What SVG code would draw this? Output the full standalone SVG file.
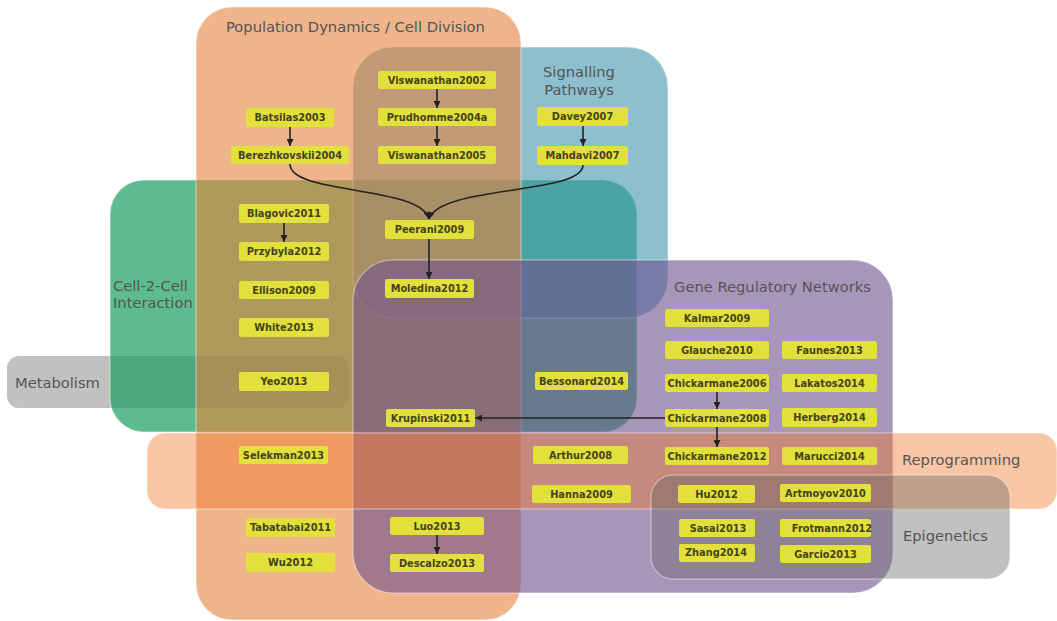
<svg xmlns="http://www.w3.org/2000/svg" width="1057" height="621" viewBox="0 0 1057 621">
<defs>
<style>
.region{stroke:#ffffff;stroke-opacity:0.35;stroke-width:1.5}
.rlabel{font-family:"DejaVu Sans","Liberation Sans",sans-serif;font-size:14.7px;fill:#555555}
.node rect{fill:#e2e03a}
.node text{font-family:"DejaVu Sans","Liberation Sans",sans-serif;font-size:9.8px;font-weight:bold;fill:#45421c;text-anchor:middle}
.conn{fill:none;stroke:#222222;stroke-width:1.6;marker-end:url(#ah)}
</style>
<marker id="ah" viewBox="0 0 10 10" refX="10" refY="5" markerWidth="7" markerHeight="7" markerUnits="userSpaceOnUse" orient="auto">
<path d="M0,0 L10,5 L0,10 z" fill="#222222"/>
</marker>
</defs>
<rect width="1057" height="621" fill="#ffffff"/>
<g id="regions">
<g id="metabolism"><rect x="7" y="356" width="342" height="52" rx="12" fill="rgb(100,100,100)" fill-opacity="0.4"/></g>
<g id="cell2cell"><rect class="region" x="110" y="180" width="527" height="252" rx="34" fill="rgb(26,158,95)" fill-opacity="0.7"/></g>
<g id="signalling"><rect class="region" x="353" y="47" width="315" height="271" rx="40" fill="rgb(65,148,175)" fill-opacity="0.6"/></g>
<g id="population"><rect class="region" x="196" y="7" width="325" height="613" rx="36" fill="rgb(230,130,60)" fill-opacity="0.6"/></g>
<g id="grn"><rect class="region" x="353" y="260" width="540" height="333" rx="40" fill="rgb(110,80,140)" fill-opacity="0.6"/></g>
<g id="reprogramming"><rect class="region" x="147" y="433" width="910" height="76" rx="18" fill="rgb(240,120,40)" fill-opacity="0.42"/></g>
<g id="epigenetics"><rect class="region" x="651" y="475" width="359" height="104" rx="22" fill="rgb(100,100,100)" fill-opacity="0.4"/></g>
</g>
<g id="region-labels">
<text class="rlabel" x="226" y="32">Population Dynamics / Cell Division</text>
<text class="rlabel" x="579" y="77" text-anchor="middle">Signalling</text>
<text class="rlabel" x="579" y="95" text-anchor="middle">Pathways</text>
<text class="rlabel" x="113" y="291">Cell-2-Cell</text>
<text class="rlabel" x="113" y="308">Interaction</text>
<text class="rlabel" x="674" y="292">Gene Regulatory Networks</text>
<text class="rlabel" x="15" y="388">Metabolism</text>
<text class="rlabel" x="902" y="465">Reprogramming</text>
<text class="rlabel" x="903" y="541">Epigenetics</text>
</g>
<g id="connectors">
<path class="conn" d="M437,89 L437,108"/>
<path class="conn" d="M437,126 L437,146"/>
<path class="conn" d="M290,127 L290,146"/>
<path class="conn" d="M583,126 L583,146"/>
<path class="conn" d="M284,223 L284,242"/>
<path class="conn" d="M290,164 C290,195 420,185 429,219"/>
<path class="conn" d="M583,165 C583,195 440,185 429,219"/>
<path class="conn" d="M429,239 L429,279"/>
<path class="conn" d="M717,392 L717,409"/>
<path class="conn" d="M717,427 L717,447"/>
<path class="conn" d="M665,418 L475,418"/>
<path class="conn" d="M437,535 L437,554"/>
</g>
<g id="n-viswanathan2002" class="node"><rect x="378" y="71" width="118" height="18" rx="2"/><text x="437" y="83.5">Viswanathan2002</text></g>
<g id="n-prudhomme2004a" class="node"><rect x="378" y="108" width="118" height="18" rx="2"/><text x="437" y="120.5">Prudhomme2004a</text></g>
<g id="n-viswanathan2005" class="node"><rect x="378" y="146" width="118" height="18" rx="2"/><text x="437" y="158.5">Viswanathan2005</text></g>
<g id="n-batsilas2003" class="node"><rect x="246" y="108" width="88" height="19" rx="2"/><text x="290" y="121">Batsilas2003</text></g>
<g id="n-berezhkovskii2004" class="node"><rect x="231" y="146" width="118" height="18" rx="2"/><text x="290" y="158.5">Berezhkovskii2004</text></g>
<g id="n-davey2007" class="node"><rect x="537" y="107" width="91" height="19" rx="2"/><text x="582.5" y="120">Davey2007</text></g>
<g id="n-mahdavi2007" class="node"><rect x="537" y="146" width="91" height="19" rx="2"/><text x="582.5" y="159">Mahdavi2007</text></g>
<g id="n-peerani2009" class="node"><rect x="385" y="220" width="89" height="19" rx="2"/><text x="429.5" y="233">Peerani2009</text></g>
<g id="n-moledina2012" class="node"><rect x="385" y="279" width="89" height="19" rx="2"/><text x="429.5" y="292">Moledina2012</text></g>
<g id="n-blagovic2011" class="node"><rect x="239" y="204" width="90" height="19" rx="2"/><text x="284" y="217">Blagovic2011</text></g>
<g id="n-przybyla2012" class="node"><rect x="239" y="242" width="90" height="19" rx="2"/><text x="284" y="255">Przybyla2012</text></g>
<g id="n-ellison2009" class="node"><rect x="239" y="281" width="90" height="18" rx="2"/><text x="284" y="293.5">Ellison2009</text></g>
<g id="n-white2013" class="node"><rect x="239" y="318" width="90" height="19" rx="2"/><text x="284" y="331">White2013</text></g>
<g id="n-yeo2013" class="node"><rect x="239" y="372" width="90" height="19" rx="2"/><text x="284" y="385">Yeo2013</text></g>
<g id="n-selekman2013" class="node"><rect x="239" y="446" width="89" height="18" rx="2"/><text x="283.5" y="458.5">Selekman2013</text></g>
<g id="n-tabatabai2011" class="node"><rect x="246" y="518" width="89" height="19" rx="2"/><text x="290.5" y="531">Tabatabai2011</text></g>
<g id="n-wu2012" class="node"><rect x="246" y="553" width="89" height="19" rx="2"/><text x="290.5" y="566">Wu2012</text></g>
<g id="n-luo2013" class="node"><rect x="390" y="517" width="94" height="18" rx="2"/><text x="437" y="529.5">Luo2013</text></g>
<g id="n-descalzo2013" class="node"><rect x="390" y="554" width="94" height="18" rx="2"/><text x="437" y="566.5">Descalzo2013</text></g>
<g id="n-krupinski2011" class="node"><rect x="386" y="409" width="89" height="18" rx="2"/><text x="430.5" y="421.5">Krupinski2011</text></g>
<g id="n-bessonard2014" class="node"><rect x="535" y="372" width="93" height="18" rx="2"/><text x="581.5" y="384.5">Bessonard2014</text></g>
<g id="n-arthur2008" class="node"><rect x="533" y="446" width="95" height="18" rx="2"/><text x="580.5" y="458.5">Arthur2008</text></g>
<g id="n-hanna2009" class="node"><rect x="532" y="485" width="99" height="18" rx="2"/><text x="581.5" y="497.5">Hanna2009</text></g>
<g id="n-kalmar2009" class="node"><rect x="665" y="309" width="104" height="18" rx="2"/><text x="717" y="321.5">Kalmar2009</text></g>
<g id="n-glauche2010" class="node"><rect x="665" y="341" width="104" height="18" rx="2"/><text x="717" y="353.5">Glauche2010</text></g>
<g id="n-faunes2013" class="node"><rect x="782" y="341" width="95" height="18" rx="2"/><text x="829.5" y="353.5">Faunes2013</text></g>
<g id="n-chickarmane2006" class="node"><rect x="665" y="374" width="104" height="18" rx="2"/><text x="717" y="386.5">Chickarmane2006</text></g>
<g id="n-lakatos2014" class="node"><rect x="782" y="374" width="95" height="18" rx="2"/><text x="829.5" y="386.5">Lakatos2014</text></g>
<g id="n-chickarmane2008" class="node"><rect x="665" y="409" width="104" height="18" rx="2"/><text x="717" y="421.5">Chickarmane2008</text></g>
<g id="n-herberg2014" class="node"><rect x="782" y="408" width="95" height="19" rx="2"/><text x="829.5" y="421">Herberg2014</text></g>
<g id="n-chickarmane2012" class="node"><rect x="665" y="447" width="104" height="18" rx="2"/><text x="717" y="459.5">Chickarmane2012</text></g>
<g id="n-marucci2014" class="node"><rect x="782" y="447" width="95" height="18" rx="2"/><text x="829.5" y="460">Marucci2014</text></g>
<g id="n-hu2012" class="node"><rect x="678" y="485" width="77" height="18" rx="2"/><text x="716.5" y="497.5">Hu2012</text></g>
<g id="n-artmoyov2010" class="node"><rect x="780" y="484" width="91" height="18" rx="2"/><text x="825.5" y="496.5">Artmoyov2010</text></g>
<g id="n-sasai2013" class="node"><rect x="679" y="519" width="76" height="18" rx="2"/><text x="718" y="531.5">Sasai2013</text></g>
<g id="n-frotmann2012" class="node"><rect x="780" y="519" width="91" height="18" rx="2"/><text x="832" y="531.5">Frotmann2012</text></g>
<g id="n-zhang2014" class="node"><rect x="679" y="544" width="76" height="18" rx="2"/><text x="716" y="556">Zhang2014</text></g>
<g id="n-garcio2013" class="node"><rect x="780" y="545" width="91" height="18" rx="2"/><text x="825.5" y="557.5">Garcio2013</text></g>
</svg>
